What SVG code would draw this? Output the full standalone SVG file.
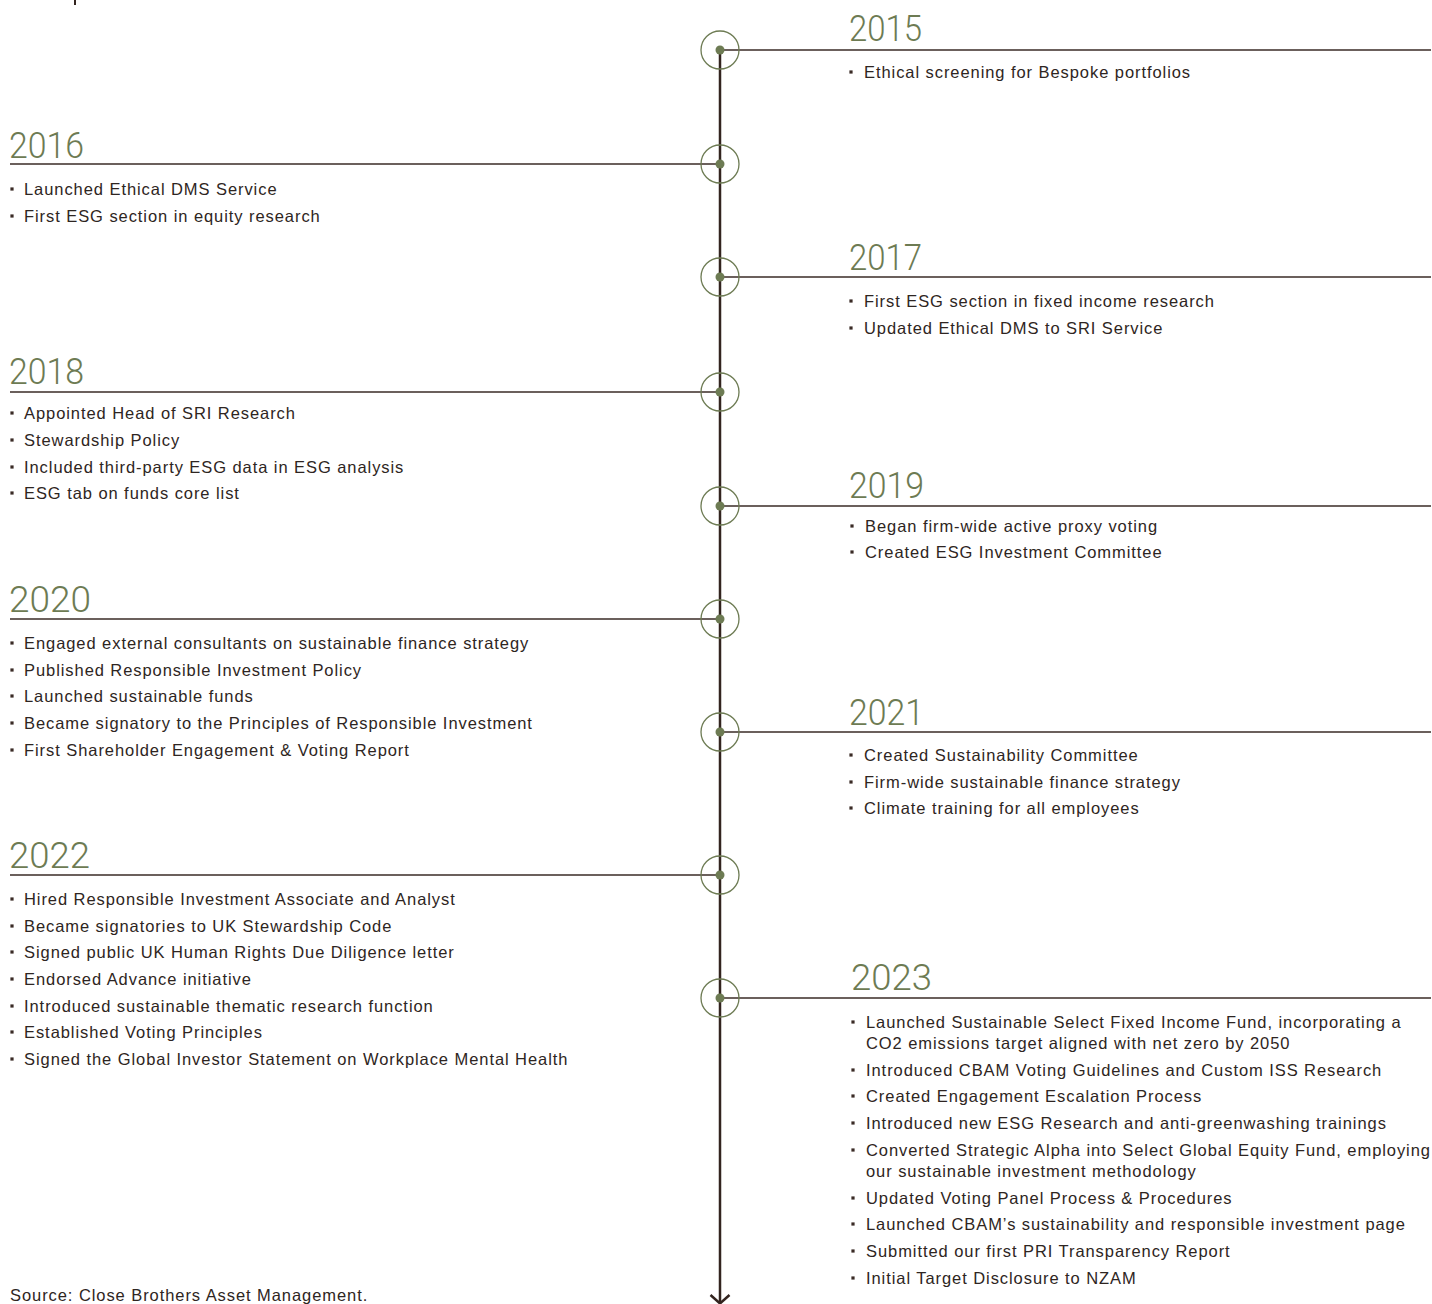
<svg xmlns="http://www.w3.org/2000/svg" width="1432" height="1304" viewBox="0 0 1432 1304">
<style>
.yr{font-family:Roboto,"Liberation Sans",sans-serif;font-weight:300;font-size:36px;fill:#6d7b53}
.tx{font-family:"Liberation Sans",Arial,sans-serif;font-size:16.5px;letter-spacing:0.93px;fill:#2e2522}
.hl{stroke:#3a2b26;stroke-width:1.5;fill:none}
.ax{stroke:#33241f;stroke-width:2.5;fill:none}
.ring{stroke:#6d7b53;stroke-width:1.3;fill:none}
.dot{fill:#6d7b53}
.bl{fill:#3a2b26}
</style>
<defs>
<g id="mk"><circle class="ring" r="19"/><circle class="dot" r="4.5"/></g>
<rect id="b" x="-1.6" y="-1.6" width="3.2" height="3.2" class="bl"/>
</defs>
<rect x="74" y="0" width="2" height="5" fill="#33241f"/>
<g id="connectors">
<line class="ax" x1="720" y1="50" x2="720" y2="1302"/>
<polyline class="ax" points="710.5,1295 720,1303.5 729.5,1295"/>
<line class="hl" x1="720" y1="50" x2="1431" y2="50"/>
<line class="hl" x1="10" y1="164" x2="720" y2="164"/>
<line class="hl" x1="720" y1="277" x2="1431" y2="277"/>
<line class="hl" x1="10" y1="392" x2="720" y2="392"/>
<line class="hl" x1="720" y1="506" x2="1431" y2="506"/>
<line class="hl" x1="10" y1="619" x2="720" y2="619"/>
<line class="hl" x1="720" y1="732" x2="1431" y2="732"/>
<line class="hl" x1="10" y1="875" x2="720" y2="875"/>
<line class="hl" x1="720" y1="998" x2="1431" y2="998"/>
</g>
<g id="y2015">
<use href="#mk" x="720" y="50"/>
<text class="yr" x="849" y="41" textLength="73" lengthAdjust="spacingAndGlyphs">2015</text>
<use href="#b" x="851" y="72"/>
<text class="tx" x="864" y="78">Ethical screening for Bespoke portfolios</text>
</g>
<g id="y2016">
<use href="#mk" x="720" y="164"/>
<text class="yr" x="9" y="158" textLength="75" lengthAdjust="spacingAndGlyphs">2016</text>
<use href="#b" x="12" y="189"/><text class="tx" x="24" y="195">Launched Ethical DMS Service</text>
<use href="#b" x="12" y="216"/><text class="tx" x="24" y="222">First ESG section in equity research</text>
</g>
<g id="y2017">
<use href="#mk" x="720" y="277"/>
<text class="yr" x="849" y="270" textLength="73" lengthAdjust="spacingAndGlyphs">2017</text>
<use href="#b" x="851" y="301"/><text class="tx" x="864" y="307">First ESG section in fixed income research</text>
<use href="#b" x="851" y="328"/><text class="tx" x="864" y="334">Updated Ethical DMS to SRI Service</text>
</g>
<g id="y2018">
<use href="#mk" x="720" y="392"/>
<text class="yr" x="9" y="384" textLength="75" lengthAdjust="spacingAndGlyphs">2018</text>
<use href="#b" x="12" y="413"/><text class="tx" x="24" y="419">Appointed Head of SRI Research</text>
<use href="#b" x="12" y="440"/><text class="tx" x="24" y="446">Stewardship Policy</text>
<use href="#b" x="12" y="467"/><text class="tx" x="24" y="473">Included third-party ESG data in ESG analysis</text>
<use href="#b" x="12" y="493"/><text class="tx" x="24" y="499">ESG tab on funds core list</text>
</g>
<g id="y2019">
<use href="#mk" x="720" y="506"/>
<text class="yr" x="849" y="498" textLength="75" lengthAdjust="spacingAndGlyphs">2019</text>
<use href="#b" x="852" y="526"/><text class="tx" x="865" y="532">Began firm-wide active proxy voting</text>
<use href="#b" x="852" y="552"/><text class="tx" x="865" y="558">Created ESG Investment Committee</text>
</g>
<g id="y2020">
<use href="#mk" x="720" y="619"/>
<text class="yr" x="9" y="612" textLength="82" lengthAdjust="spacingAndGlyphs">2020</text>
<use href="#b" x="12" y="643"/><text class="tx" x="24" y="649">Engaged external consultants on sustainable finance strategy</text>
<use href="#b" x="12" y="670"/><text class="tx" x="24" y="676">Published Responsible Investment Policy</text>
<use href="#b" x="12" y="696"/><text class="tx" x="24" y="702">Launched sustainable funds</text>
<use href="#b" x="12" y="723"/><text class="tx" x="24" y="729">Became signatory to the Principles of Responsible Investment</text>
<use href="#b" x="12" y="750"/><text class="tx" x="24" y="756">First Shareholder Engagement &amp; Voting Report</text>
</g>
<g id="y2021">
<use href="#mk" x="720" y="732"/>
<text class="yr" x="849" y="725" textLength="75" lengthAdjust="spacingAndGlyphs">2021</text>
<use href="#b" x="851" y="755"/><text class="tx" x="864" y="761">Created Sustainability Committee</text>
<use href="#b" x="851" y="782"/><text class="tx" x="864" y="788">Firm-wide sustainable finance strategy</text>
<use href="#b" x="851" y="808"/><text class="tx" x="864" y="814">Climate training for all employees</text>
</g>
<g id="y2022">
<use href="#mk" x="720" y="875"/>
<text class="yr" x="9" y="868" textLength="81" lengthAdjust="spacingAndGlyphs">2022</text>
<use href="#b" x="12" y="899"/><text class="tx" x="24" y="905">Hired Responsible Investment Associate and Analyst</text>
<use href="#b" x="12" y="926"/><text class="tx" x="24" y="932">Became signatories to UK Stewardship Code</text>
<use href="#b" x="12" y="952"/><text class="tx" x="24" y="958">Signed public UK Human Rights Due Diligence letter</text>
<use href="#b" x="12" y="979"/><text class="tx" x="24" y="985">Endorsed Advance initiative</text>
<use href="#b" x="12" y="1006"/><text class="tx" x="24" y="1012">Introduced sustainable thematic research function</text>
<use href="#b" x="12" y="1032"/><text class="tx" x="24" y="1038">Established Voting Principles</text>
<use href="#b" x="12" y="1059"/><text class="tx" x="24" y="1065">Signed the Global Investor Statement on Workplace Mental Health</text>
</g>
<g id="y2023">
<use href="#mk" x="720" y="998"/>
<text class="yr" x="851" y="990" textLength="81" lengthAdjust="spacingAndGlyphs">2023</text>
<use href="#b" x="853" y="1022"/><text class="tx" x="866" y="1028">Launched Sustainable Select Fixed Income Fund, incorporating a</text>
<text class="tx" x="866" y="1049">CO2 emissions target aligned with net zero by 2050</text>
<use href="#b" x="853" y="1070"/><text class="tx" x="866" y="1076">Introduced CBAM Voting Guidelines and Custom ISS Research</text>
<use href="#b" x="853" y="1096"/><text class="tx" x="866" y="1102">Created Engagement Escalation Process</text>
<use href="#b" x="853" y="1123"/><text class="tx" x="866" y="1129">Introduced new ESG Research and anti-greenwashing trainings</text>
<use href="#b" x="853" y="1150"/><text class="tx" x="866" y="1156">Converted Strategic Alpha into Select Global Equity Fund, employing</text>
<text class="tx" x="866" y="1177">our sustainable investment methodology</text>
<use href="#b" x="853" y="1198"/><text class="tx" x="866" y="1204">Updated Voting Panel Process &amp; Procedures</text>
<use href="#b" x="853" y="1224"/><text class="tx" x="866" y="1230">Launched CBAM’s sustainability and responsible investment page</text>
<use href="#b" x="853" y="1251"/><text class="tx" x="866" y="1257">Submitted our first PRI Transparency Report</text>
<use href="#b" x="853" y="1278"/><text class="tx" x="866" y="1284">Initial Target Disclosure to NZAM</text>
</g>
<text class="tx" x="10" y="1301">Source: Close Brothers Asset Management.</text>
</svg>
